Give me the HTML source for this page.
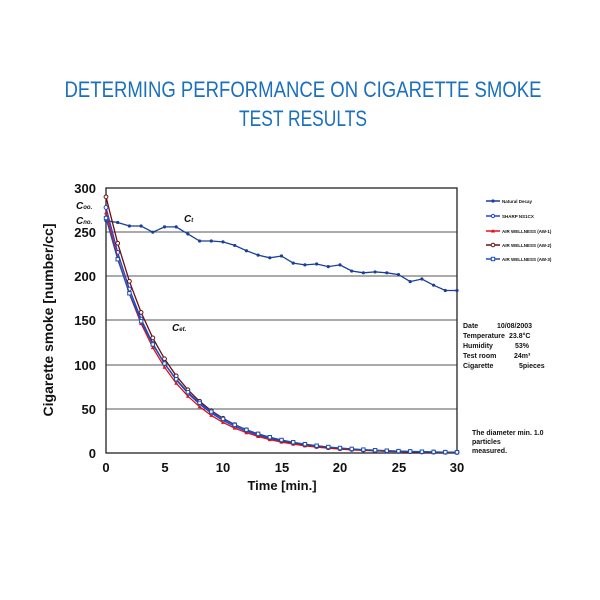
<!DOCTYPE html>
<html><head><meta charset="utf-8"><style>html,body{margin:0;padding:0;background:#fff}svg{display:block}</style></head>
<body>
<svg id="s" width="600" height="600" xmlns="http://www.w3.org/2000/svg" font-family="Liberation Sans, sans-serif">
<text x="303" y="97" text-anchor="middle" font-size="22" fill="#1a6fbf" textLength="477" lengthAdjust="spacingAndGlyphs">DETERMING PERFORMANCE ON CIGARETTE SMOKE</text>
<text x="303" y="126" text-anchor="middle" font-size="22" fill="#1a6fbf" textLength="128" lengthAdjust="spacingAndGlyphs">TEST RESULTS</text>
<g stroke="#555" stroke-width="1">
<line x1="106" y1="232" x2="457" y2="232"/><line x1="106" y1="276" x2="457" y2="276"/><line x1="106" y1="320" x2="457" y2="320"/><line x1="106" y1="365" x2="457" y2="365"/><line x1="106" y1="409" x2="457" y2="409"/>
</g>
<rect x="106" y="188" width="351" height="265" fill="none" stroke="#222" stroke-width="1.3"/>
<g font-size="13" font-weight="bold" text-anchor="end" fill="#111">
<text x="96" y="193">300</text><text x="96" y="237">250</text><text x="96" y="281">200</text><text x="96" y="325">150</text><text x="96" y="370">100</text><text x="96" y="414">50</text><text x="96" y="458">0</text>
</g>
<g font-size="13" font-weight="bold" text-anchor="middle" fill="#111">
<text x="106" y="472">0</text><text x="165" y="472">5</text><text x="223" y="472">10</text><text x="282" y="472">15</text><text x="340" y="472">20</text><text x="399" y="472">25</text><text x="457" y="472">30</text>
<text x="282" y="490">Time [min.]</text>
</g>
<text transform="translate(53,320) rotate(-90)" font-size="14" font-weight="bold" text-anchor="middle" fill="#111">Cigarette smoke [number/cc]</text>
<g font-size="10" font-style="italic" font-weight="bold" fill="#111">
<text x="76" y="209">C<tspan font-size="6">oo.</tspan></text>
<text x="76" y="224">C<tspan font-size="6">no.</tspan></text>
<text x="184" y="222">C<tspan font-size="6">t</tspan></text>
<text x="172" y="331">C<tspan font-size="6">et.</tspan></text>
</g>
<g id="series"></g>
<g font-size="4.5" font-weight="bold" fill="#111">
<line x1="486" y1="201" x2="500" y2="201" stroke="#1a3e9a" stroke-width="1.5"/><circle cx="493" cy="201" r="1.6" fill="#1a3e9a"/><text x="502" y="203">Natural Decay</text>
<line x1="486" y1="216" x2="500" y2="216" stroke="#2244cc" stroke-width="1.5"/><circle cx="493" cy="216" r="1.6" fill="#fff" stroke="#2244cc"/><text x="502" y="218">SHARP NS1CX</text>
<line x1="486" y1="231" x2="500" y2="231" stroke="#e0101a" stroke-width="1.5"/><path d="M493 229 L495 232.5 L491 232.5Z" fill="#e0101a"/><text x="502" y="233">AIR WELLNESS (AW-1)</text>
<line x1="486" y1="245" x2="500" y2="245" stroke="#6a1010" stroke-width="1.5"/><circle cx="493" cy="245" r="1.8" fill="#fff" stroke="#6a1010"/><text x="502" y="247">AIR WELLNESS (AW-2)</text>
<line x1="486" y1="259" x2="500" y2="259" stroke="#1a50b0" stroke-width="1.5"/><rect x="491.3" y="257.3" width="3.4" height="3.4" fill="#fff" stroke="#1a50b0"/><text x="502" y="261">AIR WELLNESS (AW-3)</text>
</g>
<g font-size="7" font-weight="bold" fill="#111">
<text x="463" y="328">Date</text><text x="497" y="328">10/08/2003</text>
<text x="463" y="338">Temperature</text><text x="509" y="338">23.8°C</text>
<text x="463" y="348">Humidity</text><text x="515" y="348">53%</text>
<text x="463" y="358">Test room</text><text x="514" y="358">24m³</text>
<text x="463" y="368">Cigarette</text><text x="519" y="368">5pieces</text>
<text x="472" y="435">The diameter min. 1.0</text>
<text x="472" y="444">particles</text>
<text x="472" y="453">measured.</text>
</g>
</svg>
<script>
var g=document.getElementById('series'),NS='http://www.w3.org/2000/svg';
function X(t){return 106+t*11.7}function Y(v){return 453-v*0.8833}
function el(n,a){var e=document.createElementNS(NS,n);for(var k in a)e.setAttribute(k,a[k]);g.appendChild(e);return e}
var nd=[263,261,257,257,250,256,256,248,240,240,239,235,229,224,221,223,215,213,214,211,213,206,204,205,204,202,194,197,190,184,184];
function draw(vals,col,mk){var p=vals.map(function(v,i){return X(i).toFixed(1)+','+Y(v).toFixed(1)}).join(' ');
el('polyline',{points:p,fill:'none',stroke:col,'stroke-width':1.3});
vals.forEach(function(v,i){var x=X(i),y=Y(v);
if(mk=='dot')el('circle',{cx:x,cy:y,r:1.6,fill:col});
else if(mk=='o')el('circle',{cx:x,cy:y,r:1.9,fill:'#fff',stroke:col,'stroke-width':1});
else if(mk=='sq')el('rect',{x:x-1.7,y:y-1.7,width:3.4,height:3.4,fill:'#fff',stroke:col,'stroke-width':1});
else if(mk=='tri')el('path',{d:'M'+x+' '+(y-2)+'L'+(x+2)+' '+(y+1.5)+'L'+(x-2)+' '+(y+1.5)+'Z',fill:col});});}
function dec(a,k){var r=[];for(var i=0;i<=30;i++)r.push(a*Math.exp(-k*i));return r}
draw(nd,'#1a3e9a','dot');
draw(dec(278,0.202),'#2244cc','o');
draw(dec(272,0.206),'#e0101a','tri');
draw(dec(290,0.2),'#6a1010','o');
draw(dec(266,0.193),'#1a50b0','sq');
</script>
</body></html>
